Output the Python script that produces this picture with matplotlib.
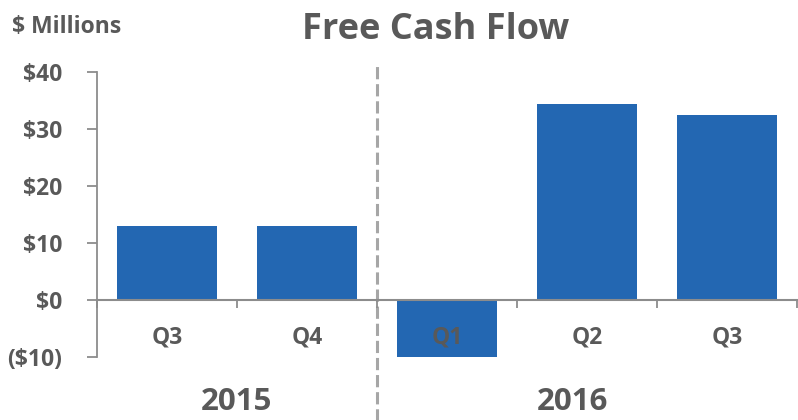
import matplotlib.pyplot as plt
import numpy as np

# data
quarters = ["Q3", "Q4", "Q1", "Q2", "Q3"]
fcf = [13.0, 13.0, -10.3, 34.4, 32.4]
years = ["2015", "2016"]
year_pos = [0.5, 2.9]
yticks = [-10, 0, 10, 20, 30, 40]
ytick_labels = ["($10)", "$0", "$10", "$20", "$30", "$40"]

bar_color = "#2367B2"
text_color = "#595959"
axis_color = "#8C8C8C"

plt.rcParams['font.family'] = ['Open Sans', 'DejaVu Sans']
plt.rcParams['font.weight'] = 'bold'

fig = plt.figure(figsize=(7.98, 4.2), dpi=100)
ax = fig.add_axes([97 / 798, 1 - 356.7 / 420, 700 / 798, 284.7 / 420])

x = np.arange(len(quarters))
ax.bar(x, fcf, width=0.715, color=bar_color, zorder=2)

ax.set_xlim(-0.5, len(quarters) - 0.5)
ax.set_ylim(-10, 40)

# spines
for s in ["top", "right"]:
    ax.spines[s].set_visible(False)
ax.spines["bottom"].set_position(("data", 0))
ax.spines["bottom"].set_color(axis_color)
ax.spines["bottom"].set_linewidth(1.5)
ax.spines["bottom"].set_zorder(3)
ax.spines["left"].set_color(axis_color)
ax.spines["left"].set_linewidth(1.3)

ax.set_xticks(np.arange(-0.5, len(quarters), 1.0))
ax.set_xticklabels([])
ax.tick_params(axis="x", direction="out", length=6, width=1.3, color=axis_color)

ax.set_yticks(yticks)
ax.set_yticklabels(ytick_labels)
ax.tick_params(axis="y", direction="out", length=7, width=1.3, color=axis_color,
               pad=18, labelsize=16.5, labelcolor=text_color)

# category labels
for i, q in enumerate(quarters):
    ax.text(i, -6.6, q, ha="center", va="center", fontsize=16.5,
            color=text_color, fontweight="bold", zorder=4)

# year labels, close to the bottom edge
for xp, yr in zip(year_pos, years):
    ax.text(xp, -19.3, yr, ha="center", va="baseline", fontsize=22.5,
            color=text_color, fontweight="bold", clip_on=False)

# divider between years
ax.axvline(1.5, ymin=-0.225, ymax=1.035, color="#A6A6A6", lw=2.2,
           dashes=(4, 1.6), clip_on=False, zorder=1)

fig.text(0.5455, 1 - 30 / 420, "Free Cash Flow", ha="center", va="center",
         fontsize=26, color=text_color, fontweight="bold")
fig.text(12 / 798, 1 - 27 / 420, "$ Millions", ha="left", va="center",
         fontsize=16.5, color=text_color, fontweight="bold")

plt.savefig("out.png", dpi=100)
